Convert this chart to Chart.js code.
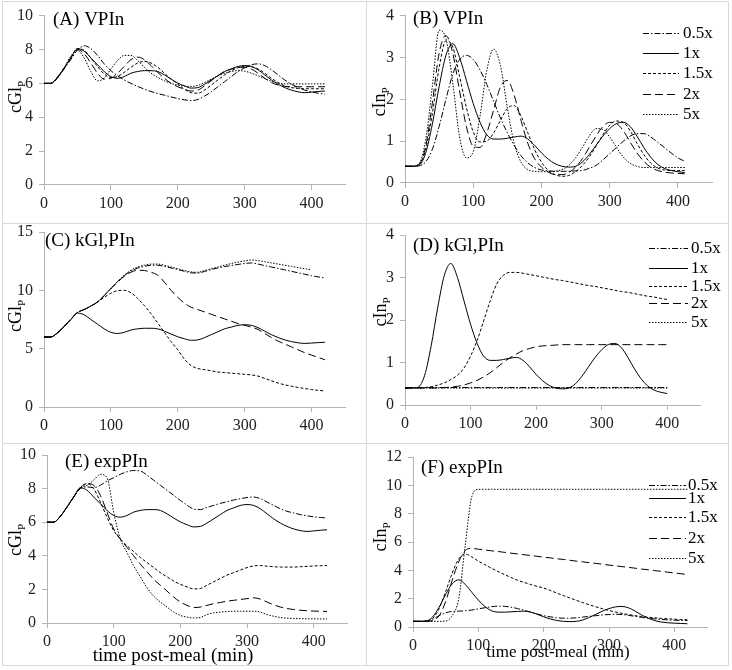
<!DOCTYPE html>
<html lang="en">
<head>
    <meta charset="UTF-8">
    <title>Glucose and insulin response to parameter scaling</title>
    <style>
        body { margin: 0; background: #fff; }
        .panel { position: absolute; border: 1px solid #d9d9d9; box-sizing: border-box; }
        canvas { position: absolute; left: 0; top: 0; }
    </style>
</head>
<body>
    <div class="panel" style="left:2px;top:1px;width:365px;height:223px"></div>
    <div class="panel" style="left:366px;top:1px;width:363px;height:223px"></div>
    <div class="panel" style="left:2px;top:223px;width:365px;height:221px"></div>
    <div class="panel" style="left:366px;top:223px;width:363px;height:221px"></div>
    <div class="panel" style="left:2px;top:443px;width:365px;height:223px"></div>
    <div class="panel" style="left:366px;top:443px;width:363px;height:223px"></div>
    <canvas id="chartA" width="732" height="670"></canvas>
    <canvas id="chartB" width="732" height="670"></canvas>
    <canvas id="chartC" width="732" height="670"></canvas>
    <canvas id="chartD" width="732" height="670"></canvas>
    <canvas id="chartE" width="732" height="670"></canvas>
    <canvas id="chartF" width="732" height="670"></canvas>
    <script src="https://cdn.jsdelivr.net/npm/chart.js@4"></script>
    <script>
        // time post-meal (min), every 10 min
        const minutes = [0,10,20,30,40,50,60,70,80,90,100,110,120,130,140,150,160,170,180,190,200,
                         210,220,230,240,250,260,270,280,290,300,310,320,330,340,350,360,370,380,390,400,410,420];
        const scaleLabels = ['0.5x', '1x', '1.5x', '2x', '5x'];

        // baseline (1x) plasma glucose and insulin, shared by all panels
        const gluBase = [6.0,6.0,6.35,6.9,7.5,8.05,7.9,7.5,7.1,6.7,6.4,6.3,6.4,6.6,6.7,6.75,6.75,6.7,6.5,6.25,6.02,
                         5.85,5.72,5.75,5.95,6.2,6.45,6.7,6.85,7.0,7.05,7.0,6.8,6.5,6.2,5.95,5.75,5.6,5.5,5.45,5.48,5.52,5.55];
        const insBase = [0.4,0.4,0.42,0.7,1.4,2.3,3.05,3.33,3.0,2.45,1.9,1.45,1.15,1.05,1.05,1.07,1.1,1.12,1.05,0.9,0.72,
                         0.57,0.46,0.4,0.38,0.4,0.5,0.68,0.9,1.12,1.3,1.42,1.45,1.35,1.12,0.85,0.62,0.45,0.35,0.3,0.27,0.25,0.23];

        // (A) VPIn, glucose
        const gluVP05 = [6.0,6.0,6.3,6.85,7.4,7.95,8.22,8.05,7.65,7.15,6.75,6.45,6.2,6.0,5.82,5.66,5.52,5.4,5.3,5.2,5.1,
                         5.03,4.98,5.05,5.25,5.5,5.8,6.1,6.4,6.7,6.92,7.1,7.15,7.05,6.8,6.5,6.2,5.95,5.75,5.6,5.5,5.42,5.36];
        const gluVP15 = [6.0,6.0,6.35,6.9,7.5,8.05,7.95,7.5,7.0,6.55,6.35,6.4,6.65,6.95,7.2,7.3,7.2,6.95,6.6,6.25,5.95,
                         5.65,5.45,5.42,5.6,5.9,6.2,6.5,6.75,6.92,7.0,6.98,6.85,6.6,6.3,6.05,5.85,5.75,5.7,5.68,5.68,5.68,5.68];
        const gluVP2 = [6.0,6.0,6.35,6.9,7.5,8.0,7.75,7.2,6.6,6.25,6.3,6.6,7.0,7.4,7.55,7.4,7.05,6.65,6.3,6.0,5.8,
                        5.65,5.55,5.6,5.85,6.15,6.45,6.7,6.85,6.95,6.95,6.85,6.6,6.3,6.05,5.9,5.82,5.8,5.8,5.8,5.8,5.8,5.8];
        const gluVP5 = [6.0,6.0,6.35,6.9,7.6,7.95,7.5,6.7,6.15,6.3,6.85,7.35,7.65,7.65,7.35,6.95,6.6,6.35,6.15,6.0,5.9,
                        5.84,5.82,5.88,6.05,6.25,6.45,6.6,6.7,6.75,6.72,6.6,6.45,6.28,6.12,6.02,5.97,5.97,5.97,5.97,5.97,5.97,5.97];

        // (B) VPIn, insulin (to 410 min)
        const insVP05 = [0.4,0.4,0.41,0.5,0.8,1.35,2.0,2.6,2.95,3.05,2.95,2.7,2.35,1.95,1.55,1.2,0.9,0.65,0.48,0.37,0.31,
                         0.29,0.28,0.28,0.28,0.29,0.3,0.35,0.42,0.55,0.7,0.85,1.0,1.12,1.18,1.18,1.1,0.98,0.85,0.72,0.6,0.52];
        const insVP15 = [0.4,0.4,0.43,0.78,1.65,2.75,3.4,3.25,2.55,1.8,1.22,0.98,1.0,1.2,1.5,1.78,1.85,1.6,1.2,0.8,0.5,
                         0.3,0.2,0.16,0.18,0.27,0.42,0.62,0.88,1.15,1.38,1.48,1.45,1.25,0.95,0.68,0.48,0.36,0.31,0.3,0.3,0.3];
        const insVP2 = [0.4,0.4,0.44,0.85,1.9,3.1,3.52,3.1,2.2,1.35,0.88,0.85,1.2,1.75,2.3,2.45,2.1,1.5,0.95,0.58,0.38,
                        0.26,0.2,0.2,0.25,0.38,0.58,0.85,1.12,1.35,1.45,1.42,1.25,0.98,0.72,0.52,0.38,0.3,0.26,0.24,0.23,0.22];
        const insVP5 = [0.4,0.4,0.45,1.0,2.3,3.65,3.45,2.4,1.1,0.6,0.75,1.6,2.7,3.2,2.8,1.8,0.95,0.5,0.32,0.28,0.27,
                        0.27,0.28,0.32,0.42,0.6,0.85,1.12,1.3,1.28,1.1,0.85,0.62,0.47,0.4,0.37,0.37,0.37,0.37,0.37,0.37,0.37];

        // (C) kGl,PIn, glucose
        const gluKG05 = [6.0,6.0,6.35,6.9,7.5,8.1,8.35,8.65,9.0,9.55,10.15,10.75,11.25,11.65,11.9,12.05,12.15,12.15,12.05,11.92,11.78,
                         11.63,11.5,11.48,11.62,11.78,11.92,12.03,12.13,12.22,12.3,12.35,12.25,12.12,12.0,11.88,11.75,11.63,11.5,11.38,11.25,11.15,11.05];
        const gluKG15 = [6.0,6.0,6.35,6.9,7.5,8.1,8.35,8.65,9.0,9.4,9.75,9.98,10.0,9.8,9.3,8.7,8.0,7.2,6.4,5.6,4.9,
                         4.1,3.55,3.3,3.2,3.1,3.0,2.95,2.9,2.85,2.8,2.75,2.65,2.45,2.25,2.05,1.9,1.78,1.67,1.58,1.5,1.43,1.38];
        const gluKG2 = [6.0,6.0,6.35,6.9,7.5,8.1,8.35,8.65,9.0,9.55,10.15,10.7,11.2,11.55,11.72,11.7,11.55,11.3,10.7,10.0,9.4,
                        8.9,8.55,8.35,8.15,7.95,7.75,7.55,7.35,7.15,7.0,6.85,6.65,6.3,5.95,5.65,5.4,5.15,4.9,4.65,4.45,4.25,4.05];
        const gluKG5 = [6.0,6.0,6.35,6.9,7.5,8.1,8.35,8.65,9.0,9.55,10.15,10.75,11.3,11.72,12.0,12.15,12.25,12.25,12.15,12.0,11.85,
                        11.7,11.58,11.55,11.7,11.85,12.0,12.15,12.3,12.42,12.52,12.6,12.55,12.45,12.35,12.25,12.15,12.05,11.95,11.85,11.75,null,null];

        // (D) kGl,PIn, insulin (to 400 min)
        const insKG05 = [0.41,0.41,0.41,0.41,0.41,0.41,0.41,0.41,0.41,0.41,0.41,0.41,0.41,0.41,0.41,0.41,0.41,0.41,0.41,0.41,0.41,
                         0.41,0.41,0.41,0.41,0.41,0.41,0.41,0.41,0.41,0.41,0.41,0.41,0.41,0.41,0.41,0.41,0.41,0.41,0.41,0.41];
        const insKG15 = [0.4,0.4,0.4,0.41,0.43,0.47,0.52,0.6,0.7,0.87,1.15,1.52,1.98,2.45,2.85,3.05,3.12,3.12,3.1,3.07,3.04,
                         3.01,2.98,2.95,2.93,2.9,2.87,2.84,2.81,2.79,2.76,2.73,2.7,2.67,2.65,2.62,2.59,2.56,2.54,2.51,2.48];
        const insKG2 = [0.4,0.4,0.4,0.4,0.4,0.4,0.41,0.42,0.44,0.47,0.52,0.58,0.66,0.76,0.88,1.0,1.11,1.2,1.28,1.33,1.37,
                        1.39,1.4,1.41,1.42,1.42,1.42,1.42,1.42,1.42,1.42,1.42,1.42,1.42,1.42,1.42,1.42,1.42,1.42,1.42,1.42];
        const insKG5 = [0.4,0.4,0.4,0.4,0.4,0.4,0.4,0.4,0.4,0.4,0.4,0.4,0.4,0.4,0.4,0.4,0.4,0.4,0.4,0.4,0.4,
                        0.4,0.4,0.4,0.4,0.4,0.4,0.4,0.4,0.4,0.4,0.4,0.4,0.4,0.4,0.4,0.4,0.4,0.4,0.4,0.4];

        // (E) expPIn, glucose
        const gluEX05 = [6.0,6.0,6.35,6.9,7.5,8.0,8.1,8.05,8.2,8.45,8.65,8.85,9.0,9.08,9.05,8.8,8.5,8.2,7.9,7.6,7.3,
                         7.02,6.78,6.75,6.88,7.0,7.12,7.22,7.32,7.4,7.47,7.5,7.4,7.2,7.0,6.8,6.65,6.55,6.45,6.38,6.32,6.28,6.25];
        const gluEX15 = [6.0,6.0,6.35,6.9,7.5,8.05,8.3,8.0,7.2,6.3,5.5,5.0,4.6,4.25,3.9,3.6,3.3,3.0,2.75,2.5,2.3,
                         2.15,2.03,2.05,2.25,2.45,2.65,2.85,3.0,3.15,3.3,3.4,3.42,3.38,3.35,3.33,3.33,3.33,3.35,3.37,3.39,3.41,3.42];
        const gluEX2 = [6.0,6.0,6.35,6.9,7.5,8.05,8.3,8.2,7.6,6.6,5.6,5.0,4.5,4.0,3.5,3.05,2.6,2.25,1.9,1.55,1.25,
                        1.05,0.92,0.95,1.05,1.15,1.22,1.3,1.35,1.4,1.45,1.5,1.42,1.25,1.08,0.95,0.86,0.8,0.76,0.73,0.71,0.7,0.69];
        const gluEX5 = [6.0,6.0,6.35,6.9,7.5,8.05,8.2,8.5,8.85,8.65,6.6,5.0,4.2,3.4,2.75,2.1,1.6,1.25,0.95,0.65,0.45,
                        0.35,0.3,0.33,0.5,0.6,0.65,0.68,0.7,0.7,0.7,0.7,0.65,0.5,0.4,0.33,0.29,0.27,0.26,0.25,0.25,0.24,0.24];

        // (F) expPIn, insulin
        const insEX05 = [0.4,0.4,0.42,0.55,0.8,1.0,1.1,1.12,1.15,1.2,1.28,1.36,1.43,1.47,1.46,1.4,1.3,1.18,1.05,0.92,0.8,
                         0.72,0.65,0.62,0.62,0.65,0.7,0.75,0.8,0.85,0.88,0.9,0.88,0.82,0.75,0.68,0.62,0.57,0.53,0.5,0.48,0.46,0.45];
        const insEX15 = [0.4,0.4,0.42,0.6,1.3,2.5,3.8,4.8,5.15,4.95,4.65,4.4,4.15,3.92,3.7,3.5,3.3,3.15,3.0,2.87,2.75,
                         2.58,2.4,2.22,2.05,1.88,1.72,1.57,1.42,1.29,1.17,1.06,0.96,0.88,0.8,0.74,0.69,0.65,0.61,0.58,0.55,0.53,0.51];
        const insEX2 = [0.4,0.4,0.4,0.45,0.8,1.8,3.3,4.6,5.4,5.55,5.49,5.44,5.38,5.33,5.27,5.21,5.16,5.1,5.05,4.99,4.93,
                        4.88,4.82,4.77,4.71,4.65,4.6,4.54,4.49,4.43,4.37,4.32,4.26,4.21,4.15,4.09,4.04,3.98,3.93,3.87,3.81,3.76,3.7];
        const insEX5 = [0.4,0.4,0.4,0.4,0.4,0.42,0.8,2.0,5.8,9.2,9.72,9.72,9.72,9.72,9.72,9.72,9.72,9.72,9.72,9.72,9.72,
                        9.72,9.72,9.72,9.72,9.72,9.72,9.72,9.72,9.72,9.72,9.72,9.72,9.72,9.72,9.72,9.72,9.72,9.72,9.72,9.72,9.72,9.72];

        Chart.defaults.font.family = '"Liberation Serif", "Times New Roman", serif';
        Chart.defaults.color = '#222';

        // line patterns, in legend order 0.5x, 1x, 1.5x, 2x, 5x
        const dashes = [[6, 2, 1.5, 2], [], [3, 2], [8, 4], [1.5, 1.5]];
        const Y_W = 40, X_H = 30;

        // titles, axis labels and the in-plot legend
        const decor = {
            id: 'decor',
            afterDraw(chart, args, o) {
                const ctx = chart.ctx;
                ctx.save();
                ctx.fillStyle = '#000';
                ctx.textBaseline = 'alphabetic';
                ctx.textAlign = 'left';
                ctx.font = '19px "Liberation Serif"';
                ctx.fillText(o.title, o.titleX, o.titleY);

                if (o.xTitle) {
                    ctx.textAlign = 'center';
                    ctx.font = o.xTitleSize + 'px "Liberation Serif"';
                    ctx.fillText(o.xTitle, o.xTitleX, o.xTitleY);
                    ctx.textAlign = 'left';
                }

                if (o.legendRows) {
                    ctx.font = '17px "Liberation Serif"';
                    ctx.textBaseline = 'middle';
                    chart.data.datasets.forEach((ds, i) => {
                        const y = o.legendRows[i] + 0.5;
                        ctx.save();
                        ctx.strokeStyle = '#000';
                        ctx.lineWidth = 1;
                        ctx.setLineDash(ds.borderDash || []);
                        ctx.beginPath();
                        ctx.moveTo(o.legX1, y);
                        ctx.lineTo(o.legX2, y);
                        ctx.stroke();
                        ctx.restore();
                        ctx.fillText(ds.label, o.legTextX, o.legendRows[i] + 1);
                    });
                    ctx.textBaseline = 'alphabetic';
                }

                // rotated y title with subscript P
                ctx.translate(o.yTitleX, o.yTitleY);
                ctx.rotate(-Math.PI / 2);
                ctx.font = '18px "Liberation Serif"';
                const w1 = ctx.measureText(o.yTitle).width;
                ctx.font = '11px "Liberation Serif"';
                const w2 = ctx.measureText('P').width;
                const x0 = -(w1 + w2) / 2;
                ctx.font = '18px "Liberation Serif"';
                ctx.fillText(o.yTitle, x0, 0);
                ctx.font = '11px "Liberation Serif"';
                ctx.fillText('P', x0 + w1, 4);
                ctx.restore();
            }
        };

        function makeChart(id, p) {
            const t = minutes.filter(m => m <= p.tEnd);
            const datasets = p.series.map((vals, i) => ({
                label: scaleLabels[i],
                data: t.map((m, k) => ({ x: m, y: vals[k] })),
                borderColor: '#000',
                borderWidth: 1,
                borderDash: dashes[i],
                pointRadius: 0,
                fill: false,
                spanGaps: false,
                cubicInterpolationMode: 'monotone'
            }));
            const tickFont = { family: '"Liberation Serif"', size: 16 };
            return new Chart(document.getElementById(id), {
                type: 'line',
                data: { datasets: datasets },
                options: {
                    responsive: false,
                    animation: false,
                    events: [],
                    layout: {
                        padding: {
                            left: p.box.l - Y_W,
                            top: p.box.t,
                            right: 732 - p.box.r,
                            bottom: 670 - p.box.b - X_H
                        }
                    },
                    plugins: {
                        legend: { display: false },
                        tooltip: { enabled: false },
                        decor: p.decor
                    },
                    scales: {
                        x: {
                            type: 'linear',
                            min: 0,
                            max: 450,
                            grid: { drawOnChartArea: false, drawTicks: true, tickLength: 5, color: '#b3b3b3' },
                            border: { color: '#b3b3b3' },
                            ticks: { stepSize: 100, includeBounds: false, maxRotation: 0, font: tickFont, color: '#222', padding: 4 },
                            afterFit: s => { s.height = X_H; }
                        },
                        y: {
                            min: 0,
                            max: p.yMax,
                            grid: { drawOnChartArea: false, drawTicks: true, tickLength: 5, color: '#b3b3b3' },
                            border: { color: '#b3b3b3' },
                            ticks: { stepSize: p.yStep, font: tickFont, color: '#222', padding: 6 },
                            afterFit: s => { s.width = Y_W; }
                        }
                    }
                },
                plugins: [decor]
            });
        }

        makeChart('chartA', {
            tEnd: 420, yMax: 10, yStep: 2,
            box: { l: 44, t: 11, r: 345, b: 185 },
            series: [gluVP05, gluBase, gluVP15, gluVP2, gluVP5],
            decor: { title: '(A) VPIn', titleX: 53, titleY: 25, yTitle: 'cGl', yTitleX: 21, yTitleY: 97 }
        });
        makeChart('chartB', {
            tEnd: 410, yMax: 4, yStep: 1,
            box: { l: 405, t: 15, r: 712, b: 183 },
            series: [insVP05, insBase, insVP15, insVP2, insVP5],
            decor: { title: '(B) VPIn', titleX: 413, titleY: 24, yTitle: 'cIn', yTitleX: 385, yTitleY: 102,
                     legendRows: [33, 53, 73, 94, 114], legX1: 643, legX2: 679, legTextX: 683 }
        });
        makeChart('chartC', {
            tEnd: 420, yMax: 15, yStep: 5,
            box: { l: 44, t: 232, r: 345, b: 407 },
            series: [gluKG05, gluBase, gluKG15, gluKG2, gluKG5],
            decor: { title: '(C) kGl,PIn', titleX: 45, titleY: 246, yTitle: 'cGl', yTitleX: 21, yTitleY: 316 }
        });
        makeChart('chartD', {
            tEnd: 400, yMax: 4, yStep: 1,
            box: { l: 405, t: 235, r: 700, b: 405 },
            series: [insKG05, insBase, insKG15, insKG2, insKG5],
            decor: { title: '(D) kGl,PIn', titleX: 413, titleY: 251, yTitle: 'cIn', yTitleX: 386, yTitleY: 312,
                     legendRows: [248, 268, 286, 303, 322], legX1: 649, legX2: 688, legTextX: 691 }
        });
        makeChart('chartE', {
            tEnd: 420, yMax: 10, yStep: 2,
            box: { l: 47, t: 455, r: 347, b: 623 },
            series: [gluEX05, gluBase, gluEX15, gluEX2, gluEX5],
            decor: { title: '(E) expPIn', titleX: 65, titleY: 467, yTitle: 'cGl', yTitleX: 21, yTitleY: 540,
                     xTitle: 'time post-meal (min)', xTitleSize: 19, xTitleX: 173, xTitleY: 661 }
        });
        makeChart('chartF', {
            tEnd: 420, yMax: 12, yStep: 2,
            box: { l: 413, t: 457, r: 707, b: 627 },
            series: [insEX05, insBase, insEX15, insEX2, insEX5],
            decor: { title: '(F) expPIn', titleX: 421, titleY: 473, yTitle: 'cIn', yTitleX: 386, yTitleY: 537,
                     legendRows: [485, 498, 517, 538, 558], legX1: 649, legX2: 686, legTextX: 688,
                     xTitle: 'time post-meal (min)', xTitleSize: 17, xTitleX: 558, xTitleY: 657 }
        });
    </script>
</body>
</html>
